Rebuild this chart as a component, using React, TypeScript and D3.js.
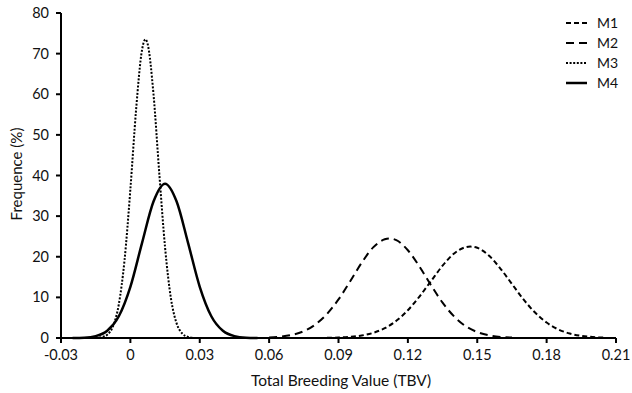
import React from 'react';
import * as d3 from 'd3';

// x ticks and y ticks
const xTicks = [-0.03, 0, 0.03, 0.06, 0.09, 0.12, 0.15, 0.18, 0.21];
const yTicks = [0, 10, 20, 30, 40, 50, 60, 70, 80];

// M1 (short dash)
const m1X = [0.085, 0.09, 0.095, 0.1, 0.105, 0.11, 0.115, 0.12, 0.125, 0.13, 0.135, 0.14, 0.145, 0.147, 0.15, 0.155, 0.16, 0.165, 0.17, 0.175, 0.18, 0.185, 0.19, 0.195, 0.2, 0.205];
const m1Y = [0.04, 0.11, 0.27, 0.61, 1.26, 2.41, 4.23, 6.84, 10.2, 14.0, 17.8, 20.8, 22.35, 22.5, 22.2, 20.3, 17.1, 13.3, 9.5, 6.26, 3.8, 2.13, 1.1, 0.52, 0.23, 0.09];

// M2 (long dash)
const m2X = [0.06, 0.065, 0.07, 0.075, 0.08, 0.085, 0.09, 0.095, 0.1, 0.105, 0.11, 0.112, 0.115, 0.12, 0.125, 0.13, 0.135, 0.14, 0.145, 0.15, 0.155, 0.16, 0.165];
const m2Y = [0.12, 0.33, 0.78, 1.69, 3.32, 5.9, 9.5, 13.9, 18.5, 22.3, 24.3, 24.5, 24.1, 21.6, 17.6, 13.0, 8.7, 5.3, 2.9, 1.46, 0.66, 0.27, 0.1];

// M3 (dotted)
const m3X = [-0.015, -0.0125, -0.01, -0.0075, -0.005, -0.0025, 0, 0.0025, 0.005, 0.0065, 0.0075, 0.01, 0.0125, 0.015, 0.0175, 0.02, 0.0225, 0.025, 0.0275];
const m3Y = [0.03, 0.19, 0.82, 2.9, 8.3, 19.3, 36.6, 56.4, 70.8, 73.5, 72.3, 60.0, 40.5, 22.3, 9.9, 3.6, 1.07, 0.26, 0.05];

// M4 (solid)
const m4X = [-0.025, -0.02, -0.015, -0.01, -0.005, 0, 0.005, 0.01, 0.015, 0.02, 0.025, 0.03, 0.035, 0.04, 0.045, 0.05, 0.055];
const m4Y = [0.015, 0.09, 0.46, 1.77, 5.35, 12.6, 23.3, 33.6, 38, 33.6, 23.3, 12.6, 5.35, 1.77, 0.46, 0.09, 0.015];

const seriesNames = ['M1', 'M2', 'M3', 'M4'];
const seriesX = [m1X, m2X, m3X, m4X];
const seriesY = [m1Y, m2Y, m3Y, m4Y];
const dashes = ['5,3', '8,5', '2,1.6', null];
const widths = [2, 2, 2, 2.5];

const W = 632;
const H = 393;
const FONT = 'Lato, "Open Sans", sans-serif';

export default function App() {
  const x = d3.scaleLinear().domain([-0.03, 0.21]).range([61, 616]);
  const y = d3.scaleLinear().domain([0, 80]).range([338, 13]);

  const line = d3
    .line<[number, number]>()
    .x((d) => x(d[0]))
    .y((d) => y(d[1]))
    .curve(d3.curveMonotoneX);

  const fmt = (v: number) => (v === 0 ? '0' : String(+v.toFixed(2)));

  return (
    <svg width={W} height={H} style={{ position: 'absolute', left: 0, top: 0, background: '#fff' }} fontFamily={FONT}>
      {/* curves */}
      {seriesNames.map((name, i) => {
        const pts = seriesX[i].map((v, j) => [v, seriesY[i][j]] as [number, number]);
        return (
          <path
            key={name}
            d={line(pts) || ''}
            fill="none"
            stroke="#000"
            strokeWidth={widths[i]}
            strokeDasharray={dashes[i] || undefined}
          />
        );
      })}

      {/* y axis */}
      <line x1={x(-0.03)} x2={x(-0.03)} y1={y(0)} y2={y(80)} stroke="#000" strokeWidth={2} />
      {yTicks.map((t) => (
        <g key={'y' + t}>
          <line x1={x(-0.03) - 5} x2={x(-0.03)} y1={y(t)} y2={y(t)} stroke="#000" strokeWidth={2} />
          <text x={x(-0.03) - 12} y={y(t)} dy="0.35em" textAnchor="end" fontSize={14.5} fill="#111">
            {t}
          </text>
        </g>
      ))}

      {/* x axis */}
      <line x1={x(-0.03)} x2={x(0.21)} y1={y(0)} y2={y(0)} stroke="#000" strokeWidth={2} />
      {xTicks.map((t) => (
        <g key={'x' + t}>
          <line x1={x(t)} x2={x(t)} y1={y(0)} y2={y(0) + 5} stroke="#000" strokeWidth={2} />
          <text x={x(t)} y={y(0) + 22} textAnchor="middle" fontSize={14.5} fill="#111">
            {fmt(t)}
          </text>
        </g>
      ))}

      {/* axis titles */}
      <text x={341} y={386} textAnchor="middle" fontSize={15.5} fill="#111">
        Total Breeding Value (TBV)
      </text>
      <text transform="translate(22,174) rotate(-90)" textAnchor="middle" fontSize={15} fill="#111">
        Frequence (%)
      </text>

      {/* legend */}
      {seriesNames.map((name, i) => (
        <g key={'lg' + name} transform={`translate(566,${23 + i * 20})`}>
          <line x1={0} x2={21} y1={0} y2={0} stroke="#000" strokeWidth={widths[i]} strokeDasharray={dashes[i] || undefined} />
          <text x={31} y={0} dy="0.35em" fontSize={14} fill="#111">
            {name}
          </text>
        </g>
      ))}
    </svg>
  );
}
